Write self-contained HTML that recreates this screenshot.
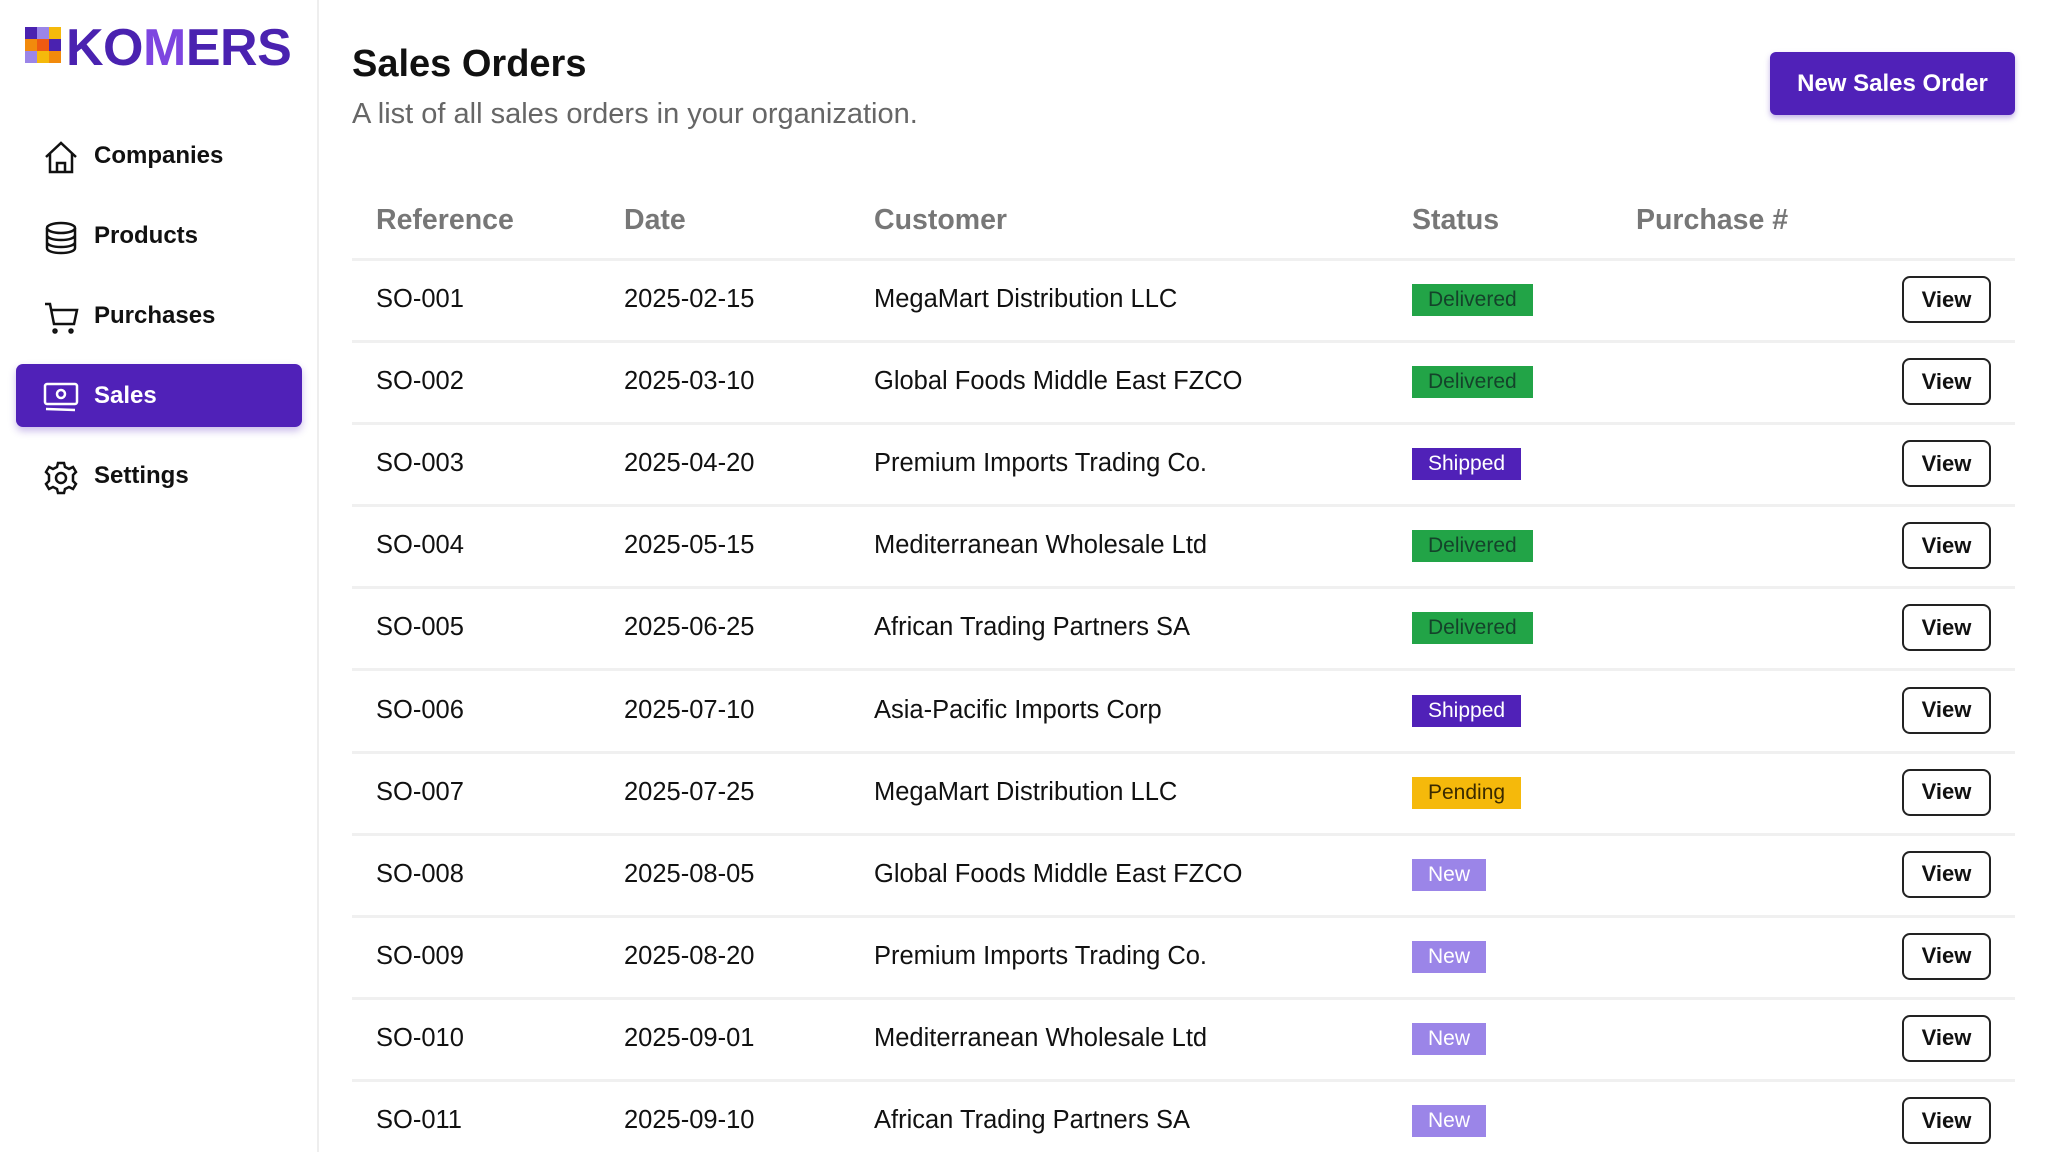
<!DOCTYPE html>
<html><head><meta charset="utf-8"><style>
*{margin:0;padding:0;box-sizing:border-box}
body{width:2048px;height:1152px;background:#fff;font-family:"Liberation Sans",sans-serif;position:relative;overflow:hidden;color:#111}
.side{position:absolute;left:0;top:0;width:319px;height:1152px;border-right:2px solid #eee}
.logo{position:absolute;left:25px;top:27px}
.sq{position:absolute;width:12px;height:12px}
.brand{position:absolute;left:66px;top:18px;font-size:52px;font-weight:bold;color:#4a22b0;letter-spacing:-0.5px}
.nav{position:absolute;left:16px;width:286px;height:63px;border-radius:7px;font-size:24px;font-weight:bold;display:flex;align-items:center}
.nav svg{position:absolute;left:27px;top:16px}
.nav span{position:absolute;left:78px}
.nav.act{background:#5021b8;color:#fff;box-shadow:0 4px 8px rgba(80,33,184,.3)}
h1{position:absolute;left:352px;top:43px;font-size:38px;font-weight:bold}
.sub{position:absolute;left:352px;top:98px;font-size:29px;color:#666}
.btn{position:absolute;left:1770px;top:52px;width:245px;height:63px;background:#5021b8;color:#fff;border-radius:6px;font-size:24px;font-weight:bold;display:flex;align-items:center;justify-content:center;box-shadow:0 3px 6px rgba(80,33,184,.35)}
.th{position:absolute;top:204px;font-size:28.5px;font-weight:bold;color:#777}
.line{position:absolute;left:352px;width:1663px;height:3px;background:#f0f0f0}
.cell{position:absolute;font-size:25.5px;color:#111}
.badge{position:absolute;left:1412px;height:32px;font-size:21px;padding:0 16px;line-height:32px}
.view{position:absolute;left:1902px;width:89px;height:47px;border:2px solid #222;border-radius:8px;font-size:22px;font-weight:bold;display:flex;align-items:center;justify-content:center}
</style></head><body>
<div class="side">
 <div class="logo">
  <div class="sq" style="left:0;top:0;background:#4a22b0"></div><div class="sq" style="left:12px;top:0;background:#9b85e8"></div><div class="sq" style="left:24px;top:0;background:#f5b90b"></div>
  <div class="sq" style="left:0;top:12px;background:#f28a0c"></div><div class="sq" style="left:12px;top:12px;background:#ee5a12"></div><div class="sq" style="left:24px;top:12px;background:#4a22b0"></div>
  <div class="sq" style="left:0;top:24px;background:#9b85e8"></div><div class="sq" style="left:12px;top:24px;background:#f5b90b"></div><div class="sq" style="left:24px;top:24px;background:#f28a0c"></div>
 </div>
 <div class="brand">KO<span style="color:#7d45e0">M</span>ERS</div>
 <div class="nav" style="top:124px"><svg width="36" height="34" viewBox="0 0 36 34" fill="none" stroke="#111" stroke-width="2.5"><path d="M3 17L18 3l15 14M7 13v19h22V13M14 32v-9h8v9"/></svg><span>Companies</span></div>
 <div class="nav" style="top:204px"><svg width="36" height="36" viewBox="0 0 36 36" fill="none" stroke="#111" stroke-width="2.5"><ellipse cx="18" cy="8" rx="14" ry="5"/><path d="M4 8v20c0 3 6 5 14 5s14-2 14-5V8M4 15c0 3 6 5 14 5s14-2 14-5M4 22c0 3 6 5 14 5s14-2 14-5"/></svg><span>Products</span></div>
 <div class="nav" style="top:284px"><svg width="36" height="36" viewBox="0 0 36 36" fill="none" stroke="#111" stroke-width="2.5"><path d="M2 4h5l4 20h20l3-14H9"/><circle cx="12" cy="31" r="1.5"/><circle cx="28" cy="31" r="1.5"/></svg><span>Purchases</span></div>
 <div class="nav act" style="top:364px"><svg width="36" height="34" viewBox="0 0 36 34" fill="none" stroke="#fff" stroke-width="2.5"><rect x="2" y="4" width="32" height="20" rx="2"/><circle cx="18" cy="14" r="4"/><path d="M3 29l29 1"/></svg><span>Sales</span></div>
 <div class="nav" style="top:444px"><svg width="36" height="36" viewBox="0 0 36 36" fill="none" stroke="#111" stroke-width="2.5"><circle cx="18" cy="18" r="5"/><path d="M15 3h6l1 4 4 2 4-2 3 5-3 3v6l3 3-3 5-4-2-4 2-1 4h-6l-1-4-4-2-4 2-3-5 3-3v-6l-3-3 3-5 4 2 4-2z"/></svg><span>Settings</span></div>
</div>
<h1>Sales Orders</h1>
<div class="sub">A list of all sales orders in your organization.</div>
<div class="btn">New Sales Order</div>
<div class="th" style="left:376px">Reference</div>
<div class="th" style="left:624px">Date</div>
<div class="th" style="left:874px">Customer</div>
<div class="th" style="left:1412px">Status</div>
<div class="th" style="left:1636px">Purchase #</div>
<div class="line" style="top:258px"></div>
<div id="rows"></div>
<script>
var d=[["SO-001","2025-02-15","MegaMart Distribution LLC","Delivered"],["SO-002","2025-03-10","Global Foods Middle East FZCO","Delivered"],["SO-003","2025-04-20","Premium Imports Trading Co.","Shipped"],["SO-004","2025-05-15","Mediterranean Wholesale Ltd","Delivered"],["SO-005","2025-06-25","African Trading Partners SA","Delivered"],["SO-006","2025-07-10","Asia-Pacific Imports Corp","Shipped"],["SO-007","2025-07-25","MegaMart Distribution LLC","Pending"],["SO-008","2025-08-05","Global Foods Middle East FZCO","New"],["SO-009","2025-08-20","Premium Imports Trading Co.","New"],["SO-010","2025-09-01","Mediterranean Wholesale Ltd","New"],["SO-011","2025-09-10","African Trading Partners SA","New"]];
var st={Delivered:["#22a447","#14432a"],Shipped:["#5021b8","#fff"],Pending:["#f5b90b","#3a2a00"],New:["#9b85e8","#fff"]};
var h="";d.forEach(function(r,i){var c=299+i*82.1;
h+='<div class="cell" style="left:376px;top:'+(c-14)+'px">'+r[0]+'</div><div class="cell" style="left:624px;top:'+(c-14)+'px">'+r[1]+'</div><div class="cell" style="left:874px;top:'+(c-14)+'px">'+r[2]+'</div>';
h+='<div class="badge" style="top:'+(c-15)+'px;background:'+st[r[3]][0]+';color:'+st[r[3]][1]+'">'+r[3]+'</div>';
h+='<div class="view" style="top:'+(c-23)+'px">View</div>';
if(i<10)h+='<div class="line" style="top:'+(c+41)+'px"></div>';});
document.getElementById("rows").innerHTML=h;
</script>
</body></html>
